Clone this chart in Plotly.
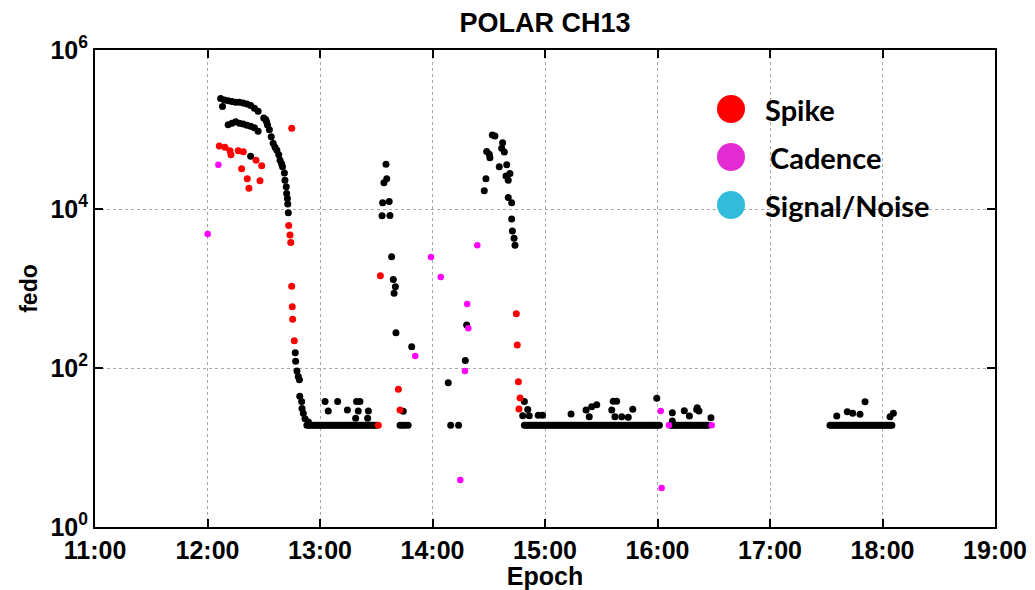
import plotly.graph_objects as go

# ---- data (time in minutes after midnight, fedo values) ----
tick_minutes = [660, 720, 780, 840, 900, 960, 1020, 1080, 1140]
tick_labels = ["11:00", "12:00", "13:00", "14:00", "15:00", "16:00", "17:00", "18:00", "19:00"]
y_tickvals = [1, 100, 10000, 1000000]
y_ticklabels = ["10<sup>0</sup>", "10<sup>2</sup>", "10<sup>4</sup>", "10<sup>6</sup>"]

black_t = [
    727, 728, 729, 731, 733, 735, 737, 739, 741, 743, 745, 747,
    731, 733, 735, 737, 739, 741, 743, 745, 747,
    743,
    750, 751, 751.5, 752, 753, 754, 755, 756, 757, 758, 758.7, 759.5, 760, 761, 761.3, 762, 762.2, 762.6, 762.8, 763.1,
    766.8, 767, 767.7, 768.4, 769, 769.2, 770.2, 770.4, 771.1, 772, 773.8,
    782.7, 789.4, 784.4, 794.6, 799.5, 801.3, 800.4, 805.8, 799, 805.4,
    815.2, 815.6, 814.1, 813.4, 816.9, 813.1, 817.3, 818.2, 819.1, 820.2, 819.5, 820.5, 828.9, 824.4,
    822.7, 824, 825.3, 827,
    858.2, 857.5, 848.4, 849.7, 853.9,
    871.9, 873.3, 877.4, 876.9, 878.3, 868.9, 870.3, 870.6, 879.6, 875.6, 881.3, 879.2, 880.4, 868.5, 867.6,
    880.4, 882.2, 882.2, 882.6, 883.5, 884,
    889, 890.8, 888.1, 891.6, 896.4, 898.7,
    913.9, 921.9, 923.6, 924.9, 927.6, 936.4, 938.2, 935.6, 937.3, 940.9, 944.4, 946.8, 959.6,
    967.9, 967.9, 974.3, 977, 981.2, 982.1, 988.5, 980.9,
    1070.7, 1061.2, 1064.1, 1068, 1055.6, 1085.8, 1084,
]
black_v = [
    2.45e5, 1.95e5, 2.35e5, 2.3e5, 2.25e5, 2.2e5, 2.2e5, 2.15e5, 2.1e5, 2.0e5, 1.85e5, 1.7e5,
    1.15e5, 1.2e5, 1.25e5, 1.2e5, 1.17e5, 1.13e5, 1.1e5, 1.05e5, 9.5e4,
    4.6e4,
    1.4e5, 1.34e5, 1.25e5, 1.14e5, 9.9e4, 8.1e4, 6.7e4, 6.0e4, 5.5e4, 4.8e4, 4.1e4, 3.7e4, 3.4e4, 2.84e4, 2.3e4, 1.9e4, 1.57e4, 1.36e4, 1.16e4, 9.0e3,
    156, 122, 92, 78, 71, 44, 38, 31, 27, 23, 21,
    38, 38, 28.7, 29.6, 38, 38, 28.7, 28.7, 23.4, 23.4,
    3.65e4, 2.4e4, 2.14e4, 1.2e4, 1.24e4, 8.2e3, 8.3e3, 2.5e3, 1.3e3, 1.05e3, 870, 278, 185, 28.5,
    19, 19, 19, 19,
    347, 124, 65, 19, 19,
    8.5e4, 8.3e4, 6.8e4, 5.8e4, 5.2e4, 5.3e4, 4.9e4, 4.4e4, 3.6e4, 3.4e4, 2.8e4, 2.6e4, 2.3e4, 2.4e4, 1.7e4,
    1.4e4, 1.2e4, 7.5e3, 5.3e3, 4.3e3, 3.5e3,
    38, 30, 25, 25, 25.4, 25.4,
    26.4, 29.6, 24.4, 32.6, 34.5, 38.1, 38.1, 29.6, 24.4, 24.4, 24, 30.2, 41.6,
    27.4, 21.5, 29, 24.9, 31.7, 28.8, 23.7, 30,
    37.7, 28.2, 26.9, 26.2, 24.9, 26.9, 24.4,
]

# samples sitting on the noise floor
floor_value = 19
floor_t = [
    773, 774, 775, 776, 777, 778, 779, 780, 781, 782, 783, 784, 785, 786, 787, 788, 789, 790, 791,
    792, 793, 794, 795, 796, 797, 798, 799, 800, 801, 802, 803, 804, 805, 806, 807, 808, 809, 810,
    889, 890, 891, 892, 893, 894, 895, 896, 897, 898, 899, 900, 901, 902, 903, 904, 905, 906, 907,
    908, 909, 910, 911, 912, 913, 914, 915, 916, 917, 918, 919, 920, 921, 922, 923, 924, 925, 926,
    927, 928, 929, 930, 931, 932, 933, 934, 935, 936, 937, 938, 939, 940, 941, 942, 943, 944, 945,
    946, 947, 948, 949, 950, 951, 952, 953, 954, 955, 956, 957, 958, 959, 960, 961,
    967, 968, 969, 970, 971, 972, 973, 974, 975, 976, 977, 978, 979, 980, 981, 982, 983, 984, 985,
    986, 987,
    1052, 1053, 1054, 1055, 1056, 1057, 1058, 1059, 1060, 1061, 1062, 1063, 1064, 1065, 1066, 1067,
    1068, 1069, 1070, 1071, 1072, 1073, 1074, 1075, 1076, 1077, 1078, 1079, 1080, 1081, 1082, 1083,
    1084, 1085,
]

spike_t = [726.3, 729.3, 732, 732.5, 736.4, 739.1, 745.9, 748.9, 738.2, 741.2, 748, 742.1,
           764.9, 763.3, 764, 764.4, 764.9, 765.2, 765.4, 766.3,
           811.1, 812.2, 821.8, 822.7,
           884.7, 885.2, 885.8, 886.7, 886.1]
spike_v = [6.2e4, 6.0e4, 5.4e4, 4.8e4, 5.4e4, 5.25e4, 4.1e4, 3.5e4, 3.2e4, 2.4e4, 2.27e4, 1.82e4,
           1.04e5, 6.2e3, 4.7e3, 3.8e3, 1.07e3, 590, 410, 220,
           19, 1450, 54, 29.6,
           482, 195, 67, 42, 30.5]

cadence_t = [720.1, 725.8, 839.2, 844.4, 830.8, 858.5, 859.1, 857.3, 863.9, 854.8,
             961.7, 966.1, 988.9, 962.2]
cadence_v = [4.85e3, 3.6e4, 2.49e3, 1.4e3, 142, 638, 316, 92, 3.5e3, 3.9,
             28.8, 19, 19, 3.1]

legend_names = ["Spike", "Cadence", "Signal/Noise"]
legend_colors = ["#FF0000", "#E22BD2", "#31BCDC"]

# ---- figure ----
fig = go.Figure()
fig.add_trace(go.Scatter(x=floor_t, y=[floor_value] * len(floor_t), mode="markers",
                         marker=dict(color="black", size=7), showlegend=False, hoverinfo="skip"))
fig.add_trace(go.Scatter(x=black_t, y=black_v, mode="markers",
                         marker=dict(color="black", size=7), showlegend=False))
fig.add_trace(go.Scatter(x=spike_t, y=spike_v, mode="markers",
                         marker=dict(color="#FF0000", size=7), showlegend=False))
fig.add_trace(go.Scatter(x=cadence_t, y=cadence_v, mode="markers",
                         marker=dict(color="#FF00FF", size=6.5), showlegend=False))

axis_font = dict(family="Liberation Sans, Arial, sans-serif", size=25, color="black", weight="bold")

fig.update_xaxes(
    range=[660, 1140], tickvals=tick_minutes, ticktext=tick_labels,
    tickfont=axis_font, ticks="inside", ticklen=8, tickwidth=2, tickcolor="black",
    showline=True, linecolor="black", linewidth=2, mirror="ticks",
    showgrid=True, gridcolor="#a8a8a8", griddash="dot", gridwidth=1,
    zeroline=False, automargin=False,
    title=dict(text="Epoch", font=dict(family="Liberation Sans, Arial, sans-serif", size=25,
                                       color="black", weight="bold"), standoff=2),
)
fig.update_yaxes(
    type="log", range=[0, 6], tickvals=y_tickvals, ticktext=y_ticklabels,
    tickfont=axis_font, ticks="inside", ticklen=8, tickwidth=2, tickcolor="black",
    showline=True, linecolor="black", linewidth=2, mirror="ticks",
    showgrid=True, gridcolor="#a8a8a8", griddash="dot", gridwidth=1,
    zeroline=False, automargin=False,
    title=dict(text="fedo", font=dict(family="Liberation Sans, Arial, sans-serif", size=23,
                                      color="black", weight="bold"), standoff=6),
)

# legend glyphs and labels (drawn in paper coordinates)
px_w, px_h = 900.0, 477.0
legend_cy = [109, 157, 205]
legend_tx = [763, 768, 763]
for name, col, cy, tx in zip(legend_names, legend_colors, legend_cy, legend_tx):
    cx = (731 - 95) / px_w
    cyp = (527 - cy) / px_h
    r = 14
    fig.add_shape(type="circle", xref="paper", yref="paper",
                  x0=cx - r / px_w, x1=cx + r / px_w, y0=cyp - r / px_h, y1=cyp + r / px_h,
                  fillcolor=col, line=dict(color=col, width=0))
    fig.add_annotation(x=(tx - 95) / px_w, y=cyp, xref="paper", yref="paper",
                       text=name, showarrow=False, xanchor="left", yanchor="middle",
                       font=dict(family="Lato, Noto Sans, sans-serif", size=29, color="black",
                                 weight="bold"))

fig.update_layout(
    width=1035, height=590,
    margin=dict(l=95, r=40, t=50, b=63),
    paper_bgcolor="white", plot_bgcolor="white",
    title=dict(text="POLAR CH13", x=0.5265, xanchor="center", y=0.962, yanchor="middle",
               font=dict(family="Liberation Sans, Arial, sans-serif", size=27, color="black",
                         weight="bold")),
    showlegend=False,
)

fig.write_html("out.html")
